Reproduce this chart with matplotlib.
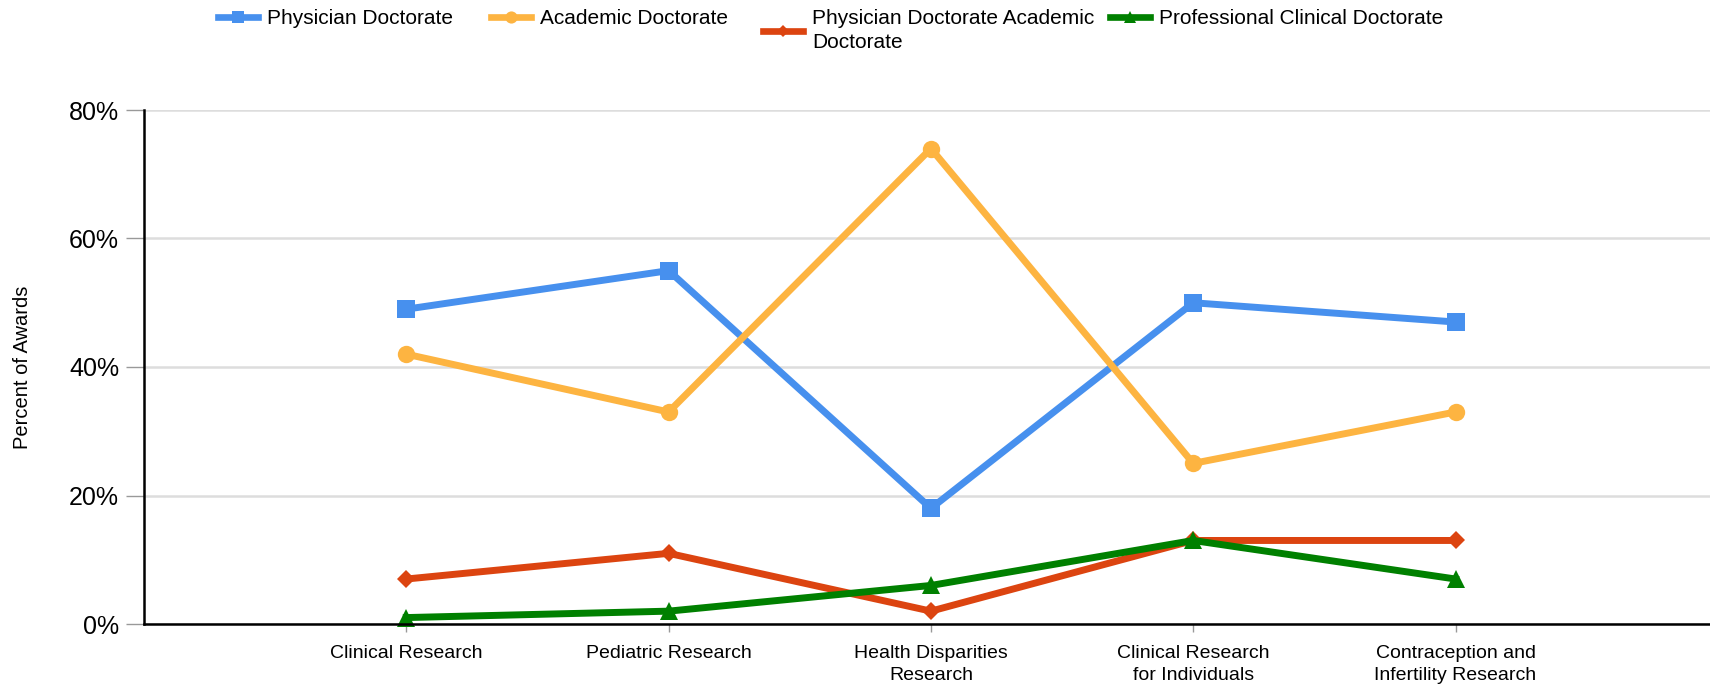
import matplotlib
matplotlib.use("Agg")
import matplotlib.pyplot as plt
from matplotlib.lines import Line2D

plt.rcParams['font.family'] = ['Liberation Sans', 'DejaVu Sans']

categories = ["Clinical Research", "Pediatric Research", "Health Disparities\nResearch",
              "Clinical Research\nfor Individuals", "Contraception and\nInfertility Research"]
physician = [49, 55, 18, 50, 47]
academic = [42, 33, 74, 25, 33]
phys_acad = [7, 11, 2, 13, 13]
professional = [1, 2, 6, 13, 7]
yticks = [0, 20, 40, 60, 80]
ytick_labels = ["0%", "20%", "40%", "60%", "80%"]

series = [
    ("Physician Doctorate", physician, "#4790EE", "s", 12.5),
    ("Academic Doctorate", academic, "#FDB441", "o", 12.5),
    ("Physician Doctorate Academic\nDoctorate", phys_acad, "#DC4410", "D", 9),
    ("Professional Clinical Doctorate", professional, "#008000", "^", 13),
]

W, H = 1710, 687
fig = plt.figure(figsize=(W / 100, H / 100), dpi=100)
ax = fig.add_axes([144 / W, (H - 624) / H, 1 - 144 / W, (624 - 110) / H])

x = list(range(len(categories)))
handles = []
for label, vals, color, mk, ms in series:
    h, = ax.plot(x, vals, color=color, lw=5, marker=mk, markersize=ms,
                 markeredgewidth=0, label=label, solid_joinstyle='miter', clip_on=False, zorder=3)
    handles.append(h)

ax.set_xlim(-1, 4.97)
ax.set_ylim(0, 80)
ax.set_yticks(yticks)
ax.set_yticklabels(ytick_labels, fontsize=18)
ax.set_xticks(x)
ax.set_xticklabels(categories, fontsize=14, linespacing=1.4)
ax.tick_params(axis='y', length=13, width=1, color='#999999', pad=5)
ax.tick_params(axis='x', length=6, width=1, color='#999999', pad=9)

ax.grid(axis='y', color='#dddddd', lw=1.8, zorder=0)
ax.set_axisbelow(True)
for s in ['top', 'right']:
    ax.spines[s].set_visible(False)
for s in ['left', 'bottom']:
    ax.spines[s].set_linewidth(1.8)
    ax.spines[s].set_color('black')
ax.spines['bottom'].set_zorder(4)

ax.set_ylabel("Percent of Awards", fontsize=14.5)
ax.yaxis.set_label_coords((32 - 144) / (W - 144), 0.5)

leg_x = [218, 491, 763, 1110]
for h, lx in zip(handles, leg_x):
    lh = Line2D([], [], color=h.get_color(), lw=4.8, marker=h.get_marker(),
                markersize=h.get_markersize() * 0.7, markeredgewidth=0)
    leg = fig.legend(handles=[lh], labels=[h.get_label()], loc='upper left',
                     bbox_to_anchor=(lx / W, 1 - 9.5 / H), frameon=False,
                     borderpad=0, borderaxespad=0, handlelength=1.9,
                     handletextpad=0.45, fontsize=15)
    for t in leg.get_texts():
        t.set_linespacing(1.28)

fig.savefig("out.png", dpi=100)
